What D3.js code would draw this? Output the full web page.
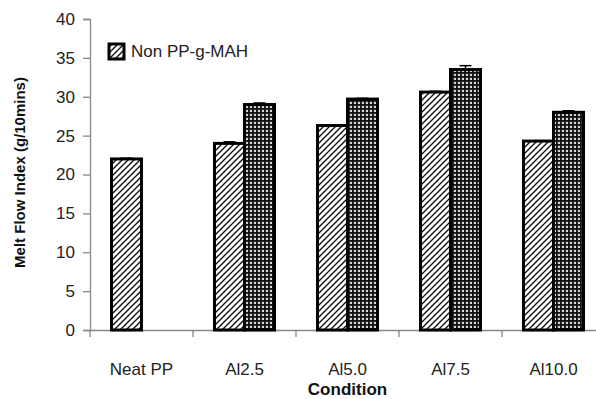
<!DOCTYPE html>
<html>
<head>
<meta charset="utf-8">
<script src="https://cdn.jsdelivr.net/npm/d3@7"></script>
<style>
  body { margin: 0; background: #fff; }
  svg { display: block; font-family: Arial, "Liberation Sans", sans-serif; }
</style>
</head>
<body>
<svg id="chart" width="596" height="399"></svg>
<script>
const categories = ['Neat PP', 'Al2.5', 'Al5.0', 'Al7.5', 'Al10.0'];
const seriesNames = ['Non PP-g-MAH', 'PP-g-MAH'];
const nonMah = [22.0, 24.0, 26.3, 30.6, 24.3];
const nonMahErr = [0.1, 0.2, 0.1, 0.1, 0.05];
const mah = [null, 29.0, 29.7, 33.5, 28.0];
const mahErr = [null, 0.2, 0.1, 0.5, 0.2];
const yTicks = [0, 5, 10, 15, 20, 25, 30, 35, 40];

const svg = d3.select('#chart');
const defs = svg.append('defs');

// diagonal hatch for the first series
const hatch = defs.append('pattern')
  .attr('id', 'hatch')
  .attr('patternUnits', 'userSpaceOnUse')
  .attr('width', 6)
  .attr('height', 6);
hatch.append('rect').attr('width', 6).attr('height', 6).attr('fill', '#fff');
hatch.append('path')
  .attr('d', 'M-1,1 L1,-1 M0,6 L6,0 M5,7 L7,5')
  .attr('stroke', '#111')
  .attr('stroke-width', 1.4);

// dense grid for the second series
const grid = defs.append('pattern')
  .attr('id', 'grid')
  .attr('patternUnits', 'userSpaceOnUse')
  .attr('width', 4)
  .attr('height', 4);
grid.append('rect').attr('width', 4).attr('height', 4).attr('fill', '#e8e8e8');
grid.append('rect').attr('x', 0).attr('y', 0).attr('width', 4).attr('height', 1.8).attr('fill', '#111');
grid.append('rect').attr('x', 0).attr('y', 0).attr('width', 1.8).attr('height', 4).attr('fill', '#111');
grid.append('rect').attr('x', 2.5).attr('y', 2.5).attr('width', 0.8).attr('height', 0.8).attr('fill', '#555');

const x = d3.scaleBand().domain(categories).range([90, 605]).paddingInner(0).paddingOuter(0);
const y = d3.scaleLinear().domain([0, 40]).range([330, 19]);
const xs = d3.scaleBand().domain(seriesNames).range([0, 60]);
const groupOffset = (x.bandwidth() - 60) / 2;

// axes
const yAxis = svg.append('g')
  .attr('transform', 'translate(90,0)')
  .call(d3.axisLeft(y).tickValues(yTicks).tickSize(7).tickPadding(8));
const xAxis = svg.append('g')
  .attr('transform', 'translate(0,330)')
  .call(d3.axisBottom(x).tickSize(0).tickPadding(33));

// category boundary ticks
svg.append('g')
  .selectAll('line')
  .data(d3.range(categories.length + 1))
  .join('line')
  .attr('x1', i => 90 + i * x.step())
  .attr('x2', i => 90 + i * x.step())
  .attr('y1', 330)
  .attr('y2', 337)
  .attr('stroke', '#888')
  .attr('stroke-width', 1.3);

[yAxis, xAxis].forEach(a => {
  a.select('.domain').attr('stroke', '#888').attr('stroke-width', 1.3);
  a.selectAll('.tick line').attr('stroke', '#888').attr('stroke-width', 1.3);
  a.selectAll('text').attr('font-size', 17).attr('fill', '#222').attr('font-family', 'Arial, "Liberation Sans", sans-serif');
});

// bars
const barData = [];
categories.forEach((c, i) => {
  barData.push({cat: c, s: seriesNames[0], v: nonMah[i], e: nonMahErr[i], fill: 'url(#hatch)'});
  if (mah[i] != null) barData.push({cat: c, s: seriesNames[1], v: mah[i], e: mahErr[i], fill: 'url(#grid)'});
});

const bars = svg.append('g');
bars.selectAll('rect')
  .data(barData)
  .join('rect')
  .attr('x', d => x(d.cat) + groupOffset + xs(d.s))
  .attr('y', d => y(d.v))
  .attr('width', xs.bandwidth())
  .attr('height', d => y(0) - y(d.v))
  .attr('fill', d => d.fill)
  .attr('stroke', '#000')
  .attr('stroke-width', 3);

// error bars
const err = svg.append('g').attr('stroke', '#000').attr('stroke-width', 1.5);
barData.forEach(d => {
  const cx = x(d.cat) + groupOffset + xs(d.s) + xs.bandwidth() / 2;
  err.append('line').attr('x1', cx).attr('x2', cx).attr('y1', y(d.v)).attr('y2', y(d.v + d.e));
  err.append('line').attr('x1', cx - 6).attr('x2', cx + 6).attr('y1', y(d.v + d.e)).attr('y2', y(d.v + d.e));
});

// legend
svg.append('rect')
  .attr('x', 109).attr('y', 44)
  .attr('width', 15).attr('height', 15)
  .attr('fill', 'url(#hatch)')
  .attr('stroke', '#000')
  .attr('stroke-width', 3);
svg.append('text')
  .attr('x', 131).attr('y', 57)
  .attr('font-size', 17)
  .attr('fill', '#222')
  .text(seriesNames[0]);

// axis titles
svg.append('text')
  .attr('x', 347.5).attr('y', 395)
  .attr('text-anchor', 'middle')
  .attr('font-size', 17)
  .attr('font-weight', 'bold')
  .attr('fill', '#111')
  .text('Condition');
svg.append('text')
  .attr('transform', 'translate(25,172.5) rotate(-90)')
  .attr('text-anchor', 'middle')
  .attr('font-size', 15)
  .attr('font-weight', 'bold')
  .attr('fill', '#111')
  .text('Melt Flow Index (g/10mins)');
</script>
</body>
</html>
